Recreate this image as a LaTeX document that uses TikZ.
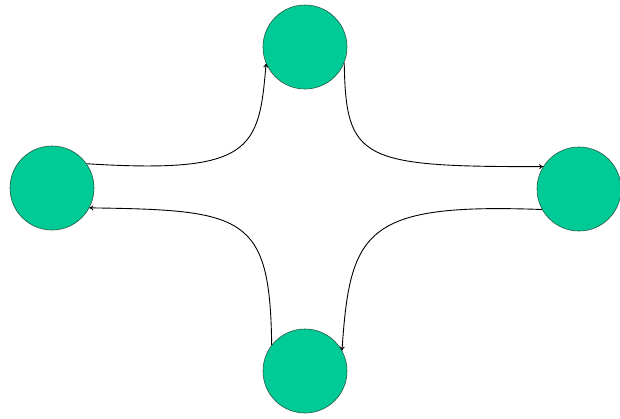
\documentclass[tikz,border=0pt]{standalone}
\usetikzlibrary{arrows.meta}
\definecolor{ballfill}{RGB}{0,202,150}
\definecolor{ballline}{RGB}{40,90,70}
\begin{document}
\begin{tikzpicture}[x=1pt,y=-1pt,
  ball/.style={circle,draw=ballline,line width=0.6pt,fill=ballfill,minimum size=84pt,inner sep=0pt},
  link/.style={line width=0.9pt,-{To[length=4pt,width=5pt]}}]
\useasboundingbox (0,0) rectangle (620,418);
\node[ball] (top) at (305,47) {};
\node[ball] (left) at (52,188) {};
\node[ball] (right) at (579,189) {};
\node[ball] (bottom) at (305,371) {};
\draw[link] (left.35) .. controls (252,174) and (259,150) .. (top.-157);
\draw[link] (top.-22) .. controls (346,160) and (360,167) .. (right.148);
\draw[link] (right.-151) .. controls (365,203) and (350,230) .. (bottom.29);
\draw[link] (bottom.142) .. controls (270,215) and (245,210) .. (left.-28);
\end{tikzpicture}
\end{document}
